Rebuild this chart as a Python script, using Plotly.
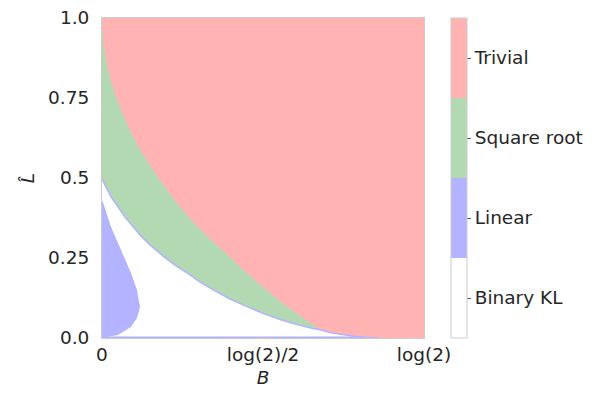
import math
import plotly.graph_objects as go

LOG2 = math.log(2)

# boundary between "Trivial" (above) and "Square root" (below)
red_B = [0.0, 0.0009, 0.0032, 0.0087, 0.0192, 0.0335, 0.0537, 0.077, 0.1195,
         0.156, 0.192, 0.2235, 0.259, 0.3095, 0.3466, 0.3845, 0.418,
         0.449, 0.4693]
red_L = [1.0, 0.96, 0.92, 0.866, 0.803, 0.741, 0.669, 0.60, 0.503,
         0.431, 0.369, 0.322, 0.275, 0.206, 0.159, 0.1125, 0.078,
         0.047, 0.026]

# upper edge of the "Binary KL" (white) region
kl_B = [0.0, 0.0043, 0.0194, 0.0495, 0.0818, 0.1033, 0.1313, 0.1571, 0.1894,
        0.211, 0.2432, 0.2755, 0.3121, 0.3466, 0.3832, 0.4198, 0.4542,
        0.4693, 0.4908, 0.5123, 0.5382, 0.5618, 0.5941]
kl_L = [0.5, 0.484, 0.441, 0.378, 0.322, 0.291, 0.256, 0.228, 0.197,
        0.175, 0.147, 0.122, 0.098, 0.077, 0.058, 0.042, 0.030,
        0.026, 0.017, 0.0116, 0.006, 0.0025, 0.0]

# "Linear" pocket near B = 0
lin_B = [0.0, 0.002, 0.0194, 0.041, 0.0624, 0.0753, 0.0818, 0.0753, 0.0624,
         0.0344, 0.013, 0.0]
lin_L = [0.43, 0.425, 0.347, 0.275, 0.203, 0.15, 0.097, 0.0625, 0.034,
         0.009, 0.003, 0.0]

# thin linear strip along L = 0
strip_B = [0.0, 0.56]
strip_L = [0.0, 0.0]

labels = ["Binary KL", "Linear", "Square root", "Trivial"]
colors = ["#ffffff", "#b3b3ff", "#b3d9b3", "#ffb3b3"]

FONT = "DejaVu Sans"
TXT = "#262626"
EDGE = "#cccccc"

fig = go.Figure()

# Trivial everywhere first
fig.add_trace(go.Scatter(
    x=[0, LOG2, LOG2, 0], y=[0, 0, 1, 1],
    fill="toself", fillcolor=colors[3], mode="lines", line=dict(width=0),
    hoverinfo="skip", showlegend=False,
))

# Square root under the red boundary
sq_x = [0.0] + red_B + [b for b in kl_B if b > red_B[-1]]
sq_y = [0.0] + red_L + [l for b, l in zip(kl_B, kl_L) if b > red_B[-1]]
fig.add_trace(go.Scatter(
    x=sq_x, y=sq_y, fill="toself", fillcolor=colors[2], mode="lines",
    line=dict(width=0), hoverinfo="skip", showlegend=False,
))

# Binary KL under its boundary
fig.add_trace(go.Scatter(
    x=[0.0] + kl_B, y=[0.0] + kl_L, fill="toself", fillcolor=colors[0],
    mode="lines", line=dict(width=0), hoverinfo="skip", showlegend=False,
))

# Linear pocket
fig.add_trace(go.Scatter(
    x=lin_B, y=lin_L, fill="toself", fillcolor=colors[1], mode="lines",
    line=dict(width=0), hoverinfo="skip", showlegend=False,
))

# thin linear edges
fig.add_trace(go.Scatter(
    x=kl_B, y=kl_L, mode="lines", line=dict(color=colors[1], width=1.5),
    hoverinfo="skip", showlegend=False,
))
fig.add_trace(go.Scatter(
    x=strip_B, y=strip_L, mode="lines", line=dict(color=colors[1], width=3),
    hoverinfo="skip", showlegend=False,
))

# discrete colour bar
scale = []
for i, c in enumerate(colors):
    scale.append([i / 4, c])
    scale.append([(i + 1) / 4, c])
fig.add_trace(go.Scatter(
    x=[None, None], y=[None, None], mode="markers", showlegend=False,
    hoverinfo="skip",
    marker=dict(
        color=[0, 4], cmin=0, cmax=4, colorscale=scale, showscale=True,
        colorbar=dict(
            x=1.084, xanchor="left", xpad=0, y=0.5, yanchor="middle", ypad=0,
            len=1, lenmode="fraction", thickness=16,
            outlinecolor=EDGE, outlinewidth=1,
            tickvals=[0.5, 1.5, 2.5, 3.5], ticktext=labels,
            ticks="outside", ticklen=4, tickcolor="#555555",
            tickfont=dict(family=FONT, size=18.5, color=TXT),
        ),
    ),
))

# the page body adds an 8px offset, so the figure is 8px smaller each way
fig.update_layout(
    width=590, height=385,
    margin=dict(l=94, r=174, t=10, b=55, autoexpand=False),
    paper_bgcolor="white", plot_bgcolor="white",
    font=dict(family=FONT, size=18.5, color=TXT),
    xaxis=dict(
        range=[0, LOG2], tickvals=[0, LOG2 / 2, LOG2],
        ticktext=["0", "log(2)/2", "log(2)"],
        showgrid=False, zeroline=False, automargin=False,
        ticklabeloverflow="allow",
        showline=True, mirror=True, linecolor=EDGE, linewidth=1,
        ticks="", ticklen=0,
        title=dict(text="<i>B</i>", standoff=6, font=dict(size=18.5)),
    ),
    yaxis=dict(
        range=[0, 1], tickvals=[0, 0.25, 0.5, 0.75, 1.0],
        ticktext=["0.0", "0.25", "0.5", "0.75", "1.0"],
        showgrid=False, zeroline=False, automargin=False,
        ticklabeloverflow="allow",
        showline=True, mirror=True, linecolor=EDGE, linewidth=1,
        ticks="outside", ticklen=8, tickcolor="rgba(0,0,0,0)",
        title=dict(text="<i>L\u0302</i>", standoff=8, font=dict(size=18.5)),
    ),
)

fig.write_html("out.html")
